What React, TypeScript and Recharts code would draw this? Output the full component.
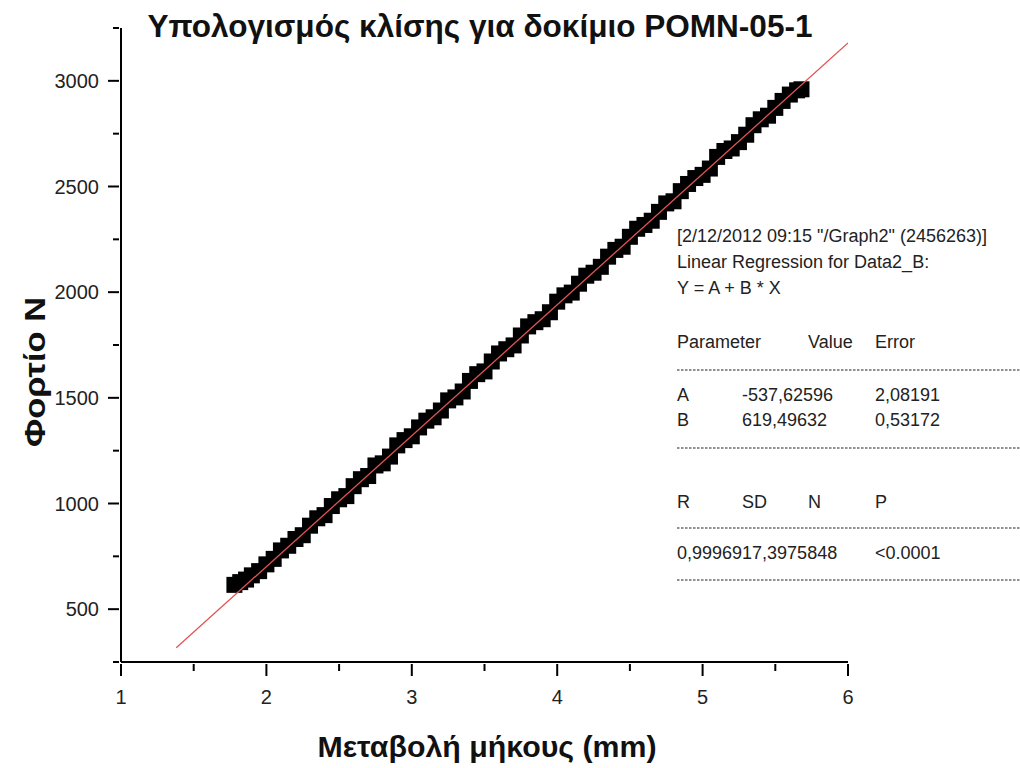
import React from "react";
import { ScatterChart, Scatter, XAxis, YAxis } from "recharts";

// measured load vs elongation (Data2_B)
const elongation = [
  1.78, 1.82, 1.86, 1.9, 1.95, 2.0, 2.05, 2.1, 2.15, 2.2, 2.25, 2.3, 2.35, 2.4, 2.45, 2.5,
  2.55, 2.6, 2.65, 2.7, 2.75, 2.8, 2.85, 2.9, 2.95, 3.0, 3.05, 3.1, 3.15, 3.2, 3.25, 3.3,
  3.35, 3.4, 3.45, 3.5, 3.55, 3.6, 3.65, 3.7, 3.75, 3.8, 3.85, 3.9, 3.95, 4.0, 4.05, 4.1,
  4.15, 4.2, 4.25, 4.3, 4.35, 4.4, 4.45, 4.5, 4.55, 4.6, 4.65, 4.7, 4.75, 4.8, 4.85, 4.9,
  4.95, 5.0, 5.05, 5.1, 5.15, 5.2, 5.25, 5.3, 5.35, 5.4, 5.45, 5.5, 5.55, 5.6, 5.65, 5.68,
];
const load = [
  615, 628, 640, 660, 680, 712, 738, 778, 800, 832, 850, 895, 930, 945, 988, 1020,
  1035, 1082, 1115, 1130, 1180, 1190, 1222, 1275, 1300, 1318, 1360, 1392, 1408, 1440, 1488, 1502,
  1530, 1580, 1612, 1625, 1672, 1710, 1730, 1748, 1795, 1838, 1858, 1872, 1905, 1955, 1985, 1998,
  2040, 2078, 2092, 2120, 2168, 2200, 2215, 2262, 2300, 2318, 2338, 2380, 2420, 2430, 2478, 2512,
  2540, 2555, 2585, 2640, 2668, 2680, 2710, 2745, 2790, 2818, 2835, 2872, 2905, 2935, 2955, 2960,
];

// linear fit endpoints
const fitX = [1.38, 6.0];
const fitY = [317.3, 3179.3];

const xTicks = [1, 1.5, 2, 2.5, 3, 3.5, 4, 4.5, 5, 5.5, 6];
const yTicks = [250, 500, 750, 1000, 1250, 1500, 1750, 2000, 2250, 2500, 2750, 3000, 3250];

const title = "Υπολογισμός κλίσης για δοκίμιο POMN-05-1";
const xLabel = "Μεταβολή μήκους (mm)";
const yLabel = "Φορτίο Ν";

const statLines = [
  '[2/12/2012 09:15 "/Graph2" (2456263)]',
  "Linear Regression for Data2_B:",
  "Y = A + B * X",
];

const points = elongation.map((x, i) => ({ x, y: load[i] }));
const fitData = fitX.map((x, i) => ({ x, y: fitY[i] }));

const FONT = "'Liberation Sans', Arial, sans-serif";

const XTick = (props: any) => {
  const { x, y, payload } = props;
  const major = Number.isInteger(payload.value);
  return (
    <g>
      <line x1={x} x2={x} y1={y} y2={y + (major ? 12 : 7)} stroke="#000" strokeWidth={2} />
      {major && (
        <text x={x} y={y + 40} textAnchor="middle" fontSize={20} fontFamily={FONT} fill="#222">
          {payload.value}
        </text>
      )}
    </g>
  );
};

const YTick = (props: any) => {
  const { x, y, payload } = props;
  const major = payload.value % 500 === 0;
  return (
    <g>
      <line x1={x} x2={x - (major ? 11 : 6)} y1={y} y2={y} stroke="#000" strokeWidth={2} />
      {major && (
        <text x={x - 20} y={y + 7} textAnchor="end" fontSize={20} fontFamily={FONT} fill="#222">
          {payload.value}
        </text>
      )}
    </g>
  );
};

const Square = (props: any) => (
  <rect x={props.cx - 8} y={props.cy - 8} width={16} height={16} fill="#000" />
);

const Dashes = ({ y }: { y: number }) => (
  <line x1={677} x2={1020} y1={y} y2={y} stroke="#222" strokeWidth={1.2} strokeDasharray="2.5 1.5" />
);

export default function App() {
  return (
    <div style={{ position: "absolute", left: 0, top: 0, width: 1020, height: 768, background: "#fff" }}>
      <ScatterChart width={1020} height={768} margin={{ top: 28, right: 172, bottom: 66, left: 61 }}>
        <XAxis
          type="number"
          dataKey="x"
          domain={[1, 6]}
          ticks={xTicks}
          allowDataOverflow
          height={40}
          tickSize={0}
          tickLine={false}
          axisLine={{ stroke: "#000", strokeWidth: 2 }}
          tick={<XTick />}
          interval={0}
        />
        <YAxis
          type="number"
          dataKey="y"
          domain={[250, 3250]}
          ticks={yTicks}
          allowDataOverflow
          width={60}
          tickSize={0}
          tickLine={false}
          axisLine={{ stroke: "#000", strokeWidth: 2 }}
          tick={<YTick />}
          interval={0}
        />
        <Scatter data={points} shape={<Square />} isAnimationActive={false} />
        <Scatter
          data={fitData}
          line={{ stroke: "#e05555", strokeWidth: 1.3 }}
          shape={() => <g />}
          isAnimationActive={false}
        />
      </ScatterChart>
      <svg
        width={1020}
        height={768}
        style={{ position: "absolute", left: 0, top: 0, pointerEvents: "none" }}
        fontFamily={FONT}
      >
        <text x={480} y={37} textAnchor="middle" fontSize={31} fontWeight="bold" fill="#111"
          textLength={665} lengthAdjust="spacingAndGlyphs">
          {title}
        </text>
        <text x={487} y={757} textAnchor="middle" fontSize={30} fontWeight="bold" fill="#111"
          textLength={339} lengthAdjust="spacingAndGlyphs">
          {xLabel}
        </text>
        <text transform="translate(45,372) rotate(-90)" textAnchor="middle" fontSize={30}
          fontWeight="bold" fill="#111" textLength={150} lengthAdjust="spacingAndGlyphs">
          {yLabel}
        </text>

        <g fontSize={18} fill="#222">
          {statLines.map((s, i) => (
            <text key={i} x={677} y={242 + i * 26}>{s}</text>
          ))}
          <text x={677} y={348}>Parameter</text>
          <text x={808} y={348}>Value</text>
          <text x={875} y={348}>Error</text>
          <Dashes y={370} />
          <text x={677} y={401}>A</text>
          <text x={742} y={401}>-537,62596</text>
          <text x={875} y={401}>2,08191</text>
          <text x={677} y={426}>B</text>
          <text x={742} y={426}>619,49632</text>
          <text x={875} y={426}>0,53172</text>
          <Dashes y={448} />
          <text x={677} y={508}>R</text>
          <text x={742} y={508}>SD</text>
          <text x={808} y={508}>N</text>
          <text x={875} y={508}>P</text>
          <Dashes y={528} />
          <text x={677} y={559}>0,9996917,3975848</text>
          <text x={875} y={559}>&lt;0.0001</text>
          <Dashes y={580} />
        </g>
      </svg>
    </div>
  );
}
